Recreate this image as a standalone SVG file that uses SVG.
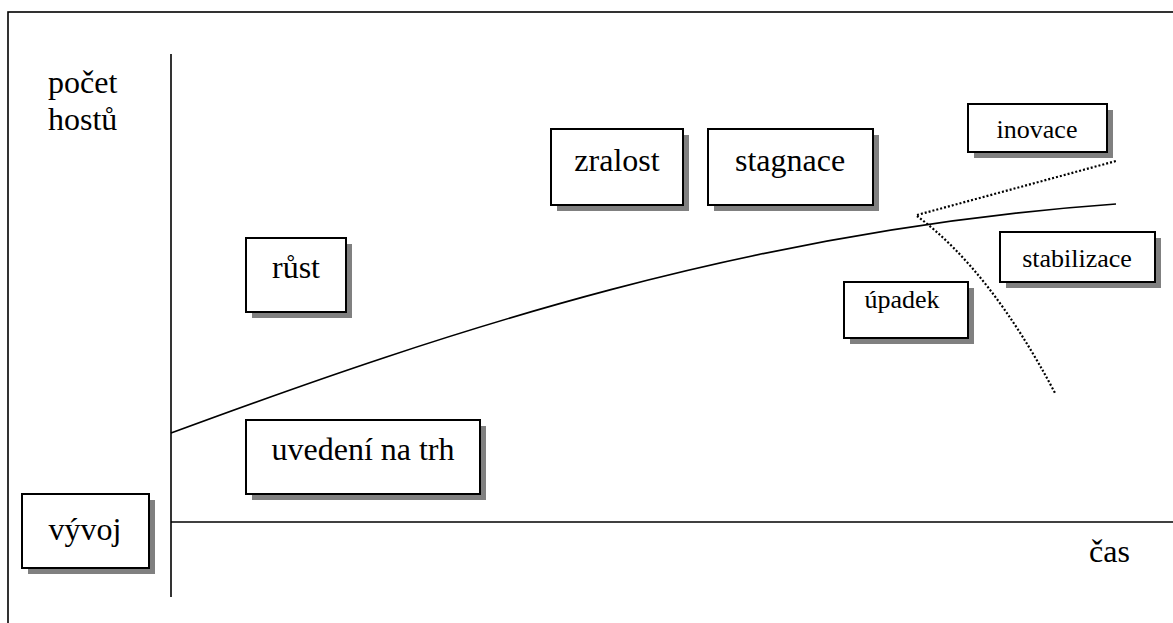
<svg xmlns="http://www.w3.org/2000/svg" width="1173" height="623" viewBox="0 0 1173 623">
<style>
.shadow{fill:#808080;stroke:none}
.box{fill:#fff;stroke:#000;stroke-width:2}
text{font-family:'Liberation Serif','DejaVu Serif',serif;font-size:32px;fill:#000;text-anchor:middle}
.s{font-size:26px}
.l{text-anchor:start}
.ax{stroke:#000;stroke-width:1.6;fill:none}
.dot{stroke:#000;stroke-width:2.2;fill:none;stroke-dasharray:2 2}
</style>
<rect width="1173" height="623" fill="#fff"/>
<rect x="8" y="12" width="1200" height="700" fill="none" stroke="#000" stroke-width="1.6"/>
<g id="axes">
<line class="ax" x1="171" y1="54" x2="171" y2="597"/>
<line class="ax" x1="171" y1="522" x2="1173" y2="522"/>
<text class="l" x="48" y="93" font-family="Liberation Serif, serif">počet</text>
<text class="l" x="48" y="130" font-family="Liberation Serif, serif">hostů</text>
<text class="l" x="1089" y="562" font-family="Liberation Serif, serif">čas</text>
</g>
<g id="connectors">
<path class="ax" d="M171,433 C450,330 750,230 1116,204"/>
<path class="dot" d="M917,215 L1116,161"/>
<path class="dot" d="M917,216 Q990,270 1055,393"/>
</g>
<g id="vyvoj"><rect class="shadow" x="28" y="500" width="127" height="74"/><rect class="box" x="22" y="494" width="127" height="74"/><text x="85" y="540" font-family="Liberation Serif, serif">vývoj</text></g>
<g id="uvedeni"><rect class="shadow" x="252" y="426" width="234" height="74"/><rect class="box" x="246" y="420" width="234" height="74"/><text x="363" y="460" font-family="Liberation Serif, serif">uvedení na trh</text></g>
<g id="rust"><rect class="shadow" x="252" y="244" width="100" height="74"/><rect class="box" x="246" y="238" width="100" height="74"/><text x="296" y="278" font-family="Liberation Serif, serif">růst</text></g>
<g id="zralost"><rect class="shadow" x="557" y="135" width="132" height="76"/><rect class="box" x="551" y="129" width="132" height="76"/><text x="617" y="171" font-family="Liberation Serif, serif">zralost</text></g>
<g id="stagnace"><rect class="shadow" x="714" y="135" width="165" height="76"/><rect class="box" x="708" y="129" width="165" height="76"/><text x="790" y="171" font-family="Liberation Serif, serif">stagnace</text></g>
<g id="inovace"><rect class="shadow" x="974" y="110" width="139" height="48"/><rect class="box" x="968" y="104" width="139" height="48"/><text class="s" x="1037" y="138" font-family="Liberation Serif, serif">inovace</text></g>
<g id="stabilizace"><rect class="shadow" x="1006" y="238" width="155" height="50"/><rect class="box" x="1000" y="232" width="155" height="50"/><text class="s" x="1077" y="267" font-family="Liberation Serif, serif">stabilizace</text></g>
<g id="upadek"><rect class="shadow" x="850" y="288" width="124" height="56"/><rect class="box" x="844" y="282" width="124" height="56"/><text class="s" x="902" y="308" font-family="Liberation Serif, serif">úpadek</text></g>
</svg>
